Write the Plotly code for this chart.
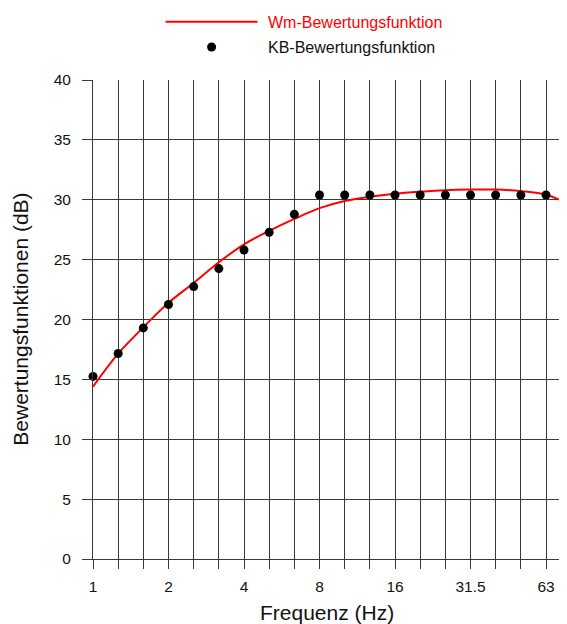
import plotly.graph_objects as go

# Third-octave band centres (exact) and their nominal labels
band_labels = ["1", "1.25", "1.6", "2", "2.5", "3.15", "4", "5", "6.3", "8",
               "10", "12.5", "16", "20", "25", "31.5", "40", "50", "63"]
band_freq = [1.0, 1.26, 1.587, 2.0, 2.52, 3.175, 4.0, 5.04, 6.35, 8.0,
             10.08, 12.7, 16.0, 20.16, 25.4, 32.0, 40.3, 50.8, 64.0]
shown_labels = ["1", "2", "4", "8", "16", "31.5", "63"]

# KB-Bewertungsfunktion (dots)
kb_values = [15.25, 17.16, 19.3, 21.25, 22.75, 24.25, 25.8, 27.28, 28.78, 30.4,
             30.4, 30.4, 30.4, 30.4, 30.4, 30.4, 30.4, 30.4, 30.4]

# Wm-Bewertungsfunktion (red curve)
wm_freq = [1.0, 1.26, 1.587, 2.0, 2.52, 3.175, 4.0, 5.04, 6.35, 8.0,
           10.08, 12.7, 16.0, 20.16, 25.4, 32.0, 40.3, 50.8, 64.0, 80.6]
wm_values = [14.39, 17.15, 19.35, 21.4, 23.05, 24.78, 26.28, 27.4, 28.4, 29.3,
             29.9, 30.25, 30.5, 30.67, 30.8, 30.85, 30.85, 30.72, 30.42, 29.55]

y_ticks = [0, 5, 10, 15, 20, 25, 30, 35, 40]

FONT = "Liberation Sans, Arial, sans-serif"
GRID = "#3a3a3a"

# The page body has an 8px margin; size the figure so it fills the window.
OFF = 8
W, H = 567 - OFF, 624 - OFF
ML, MR, MT, MB = 93 - OFF, 0, 80 - OFF, 624 - 559
PW, PH = W - ML - MR, H - MT - MB


def px_x(p):
    return (p - OFF - ML) / PW


def px_y(p):
    return (559 - p) / PH


fig = go.Figure()
fig.add_trace(go.Scatter(
    x=wm_freq, y=wm_values, mode="lines", name="Wm-Bewertungsfunktion",
    line=dict(color="#ff0000", width=2, shape="spline", smoothing=1.0),
    showlegend=False))
fig.add_trace(go.Scatter(
    x=band_freq, y=kb_values, mode="markers", name="KB-Bewertungsfunktion",
    marker=dict(color="black", size=9), cliponaxis=False, showlegend=False))

ticktext = [lab if lab in shown_labels else "" for lab in band_labels]

fig.update_xaxes(
    type="log", range=[0, 1.8898],
    tickvals=band_freq, ticktext=ticktext,
    showgrid=True, gridcolor=GRID, gridwidth=1,
    ticks="outside", ticklen=9, tickcolor=GRID, tickwidth=1,
    showline=True, linecolor=GRID, linewidth=1,
    zeroline=False,
    tickfont=dict(family=FONT, size=15.5, color="#111"),
    ticklabelstandoff=4,
)
fig.update_yaxes(
    range=[0, 40], tickvals=y_ticks,
    showgrid=True, gridcolor=GRID, gridwidth=1,
    ticks="outside", ticklen=10, tickcolor=GRID, tickwidth=1,
    showline=True, linecolor=GRID, linewidth=1,
    zeroline=False,
    tickfont=dict(family=FONT, size=15.5, color="#111"),
    ticklabelstandoff=8,
)

# Legend (drawn manually to match the long line sample and coloured labels)
fig.add_shape(type="line", xref="paper", yref="paper",
              x0=px_x(165.6), x1=px_x(257.5), y0=px_y(21.7), y1=px_y(21.7),
              line=dict(color="#ff0000", width=2))
fig.add_shape(type="circle", xref="paper", yref="paper",
              xsizemode="pixel", ysizemode="pixel",
              xanchor=px_x(211.6), yanchor=px_y(47),
              x0=-4.5, x1=4.5, y0=-4.5, y1=4.5,
              fillcolor="black", line=dict(color="black", width=0))
fig.add_annotation(text="Wm-Bewertungsfunktion", xref="paper", yref="paper",
                   x=px_x(265.5), y=px_y(22.6), xanchor="left", yanchor="middle",
                   showarrow=False, font=dict(family=FONT, size=16, color="#ff0000"))
fig.add_annotation(text="KB-Bewertungsfunktion", xref="paper", yref="paper",
                   x=px_x(265.5), y=px_y(47), xanchor="left", yanchor="middle",
                   showarrow=False, font=dict(family=FONT, size=16, color="#111"))

# Axis titles
fig.add_annotation(text="Frequenz (Hz)", xref="paper", yref="paper",
                   x=px_x(327), y=px_y(612.5), xanchor="center", yanchor="middle",
                   showarrow=False, font=dict(family=FONT, size=21, color="#111"))
fig.add_annotation(text="Bewertungsfunktionen (dB)", xref="paper", yref="paper",
                   x=px_x(20.5), y=px_y(319.2), xanchor="center", yanchor="middle",
                   textangle=-90, showarrow=False,
                   font=dict(family=FONT, size=21, color="#111"))

fig.update_layout(
    width=W, height=H,
    margin=dict(l=ML, r=MR, t=MT, b=MB, pad=0),
    paper_bgcolor="white", plot_bgcolor="white",
    showlegend=False,
    font=dict(family=FONT),
)

fig.write_html("out.html")
